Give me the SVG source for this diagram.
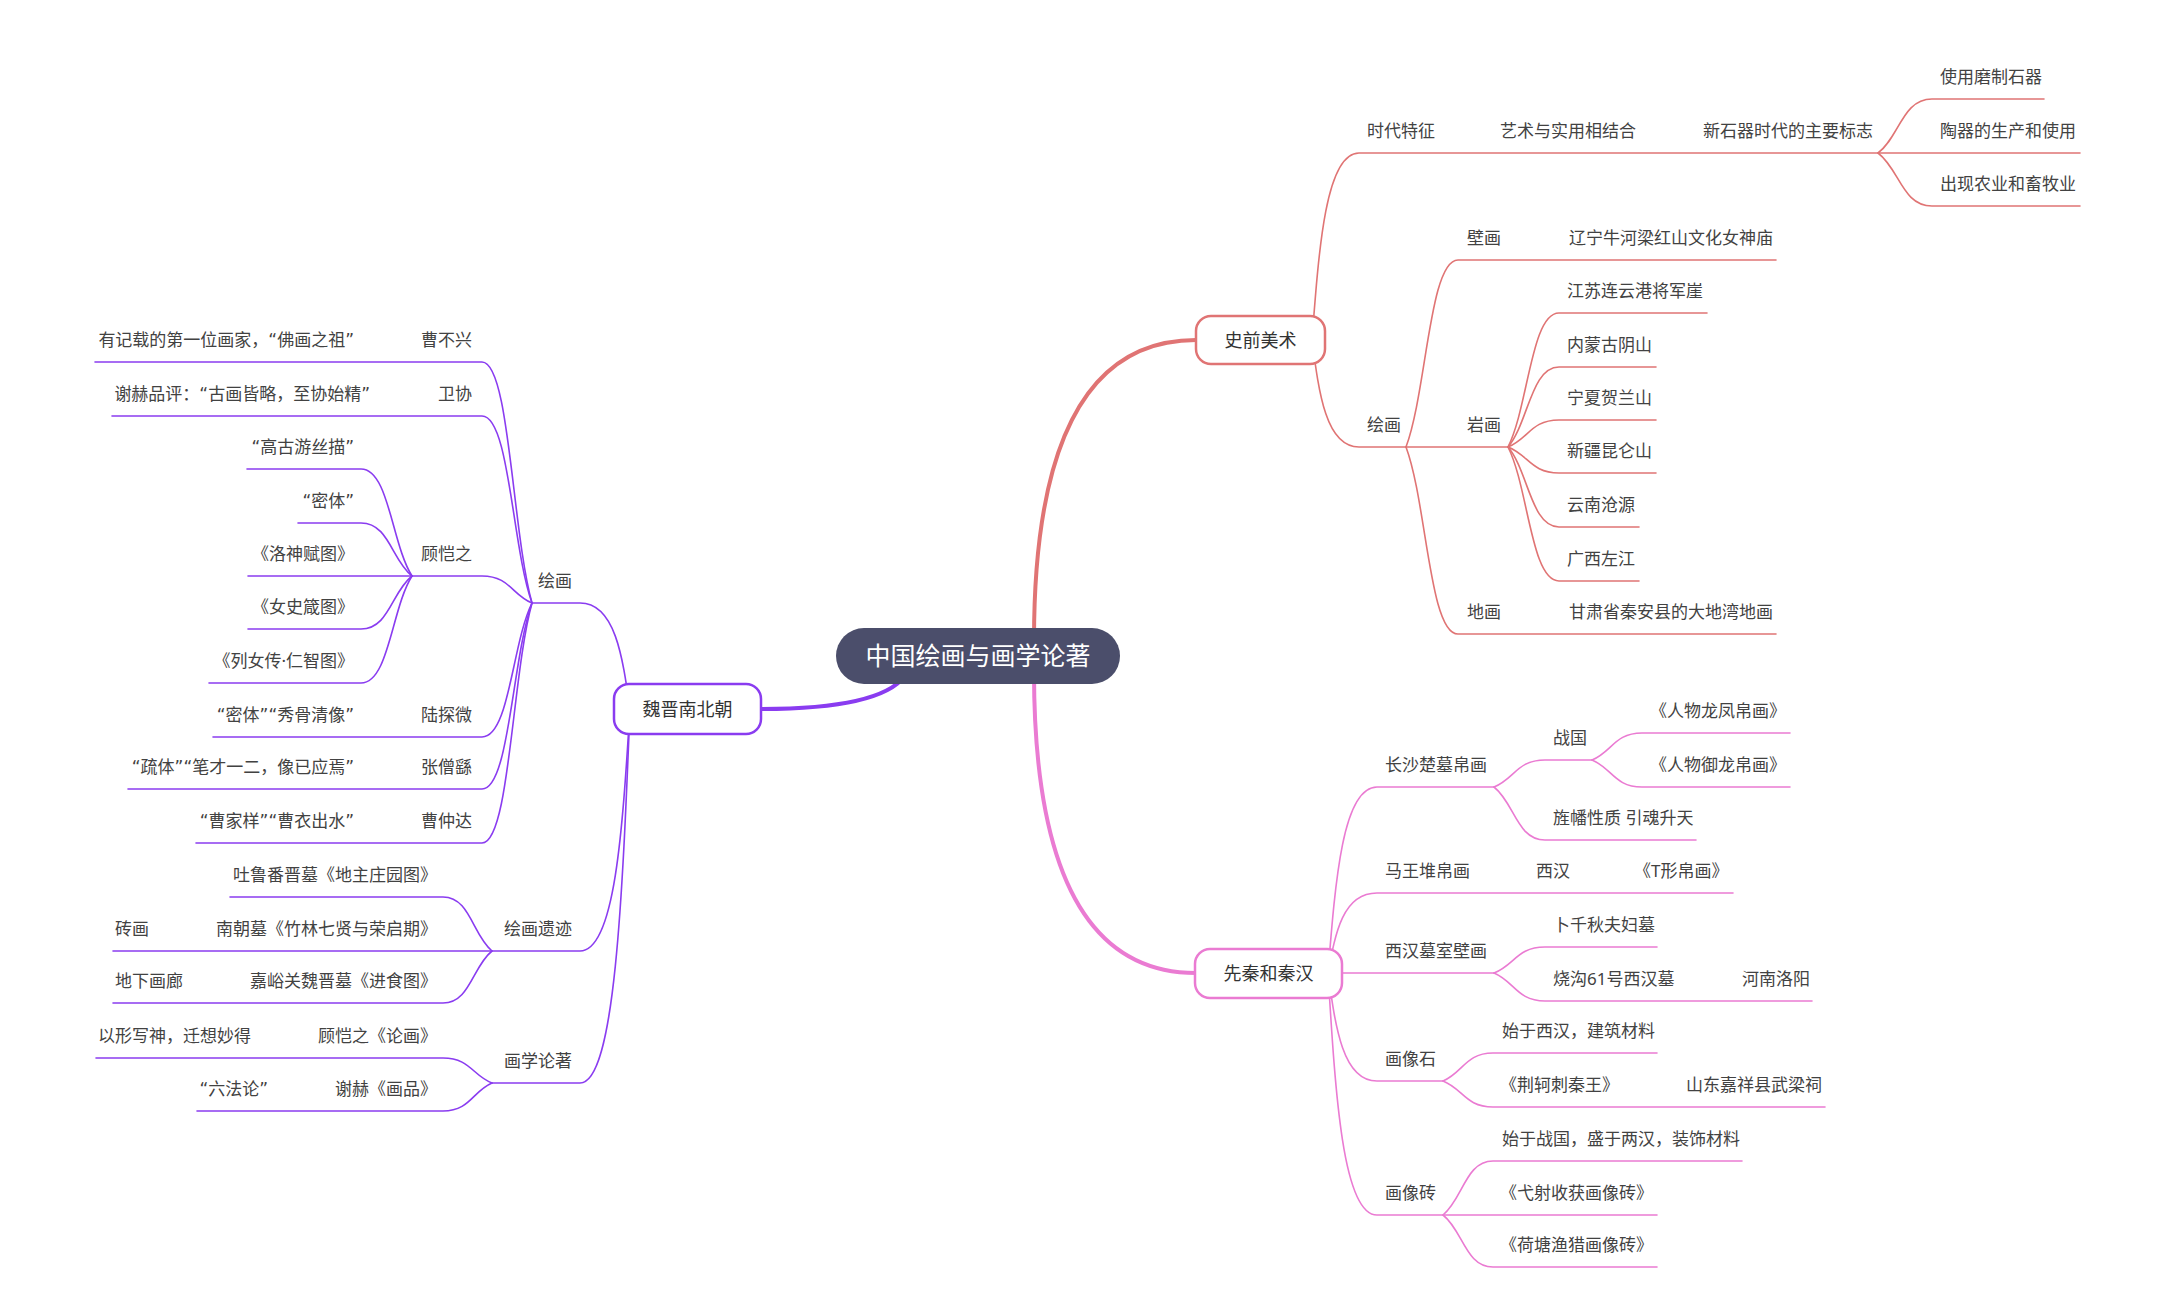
<svg xmlns="http://www.w3.org/2000/svg" width="2172" height="1312" viewBox="0 0 2172 1312">
<style>
text{font-family:"Noto Sans","Noto Sans CJK SC",sans-serif;font-size:17px;fill:#424242}
.q{font-family:"DejaVu Sans","Noto Sans CJK SC",sans-serif}
.l{text-anchor:end}
.m{font-size:18px;text-anchor:middle;fill:#333}
.c{font-size:25px;text-anchor:middle;fill:#fff}
path{fill:none;stroke-width:1.6;stroke-linecap:round}
.r{stroke:#E07474}.p{stroke:#EA7BD2}.v{stroke:#8A3CF0}
.main{stroke-width:4}
.box{fill:#fff;stroke-width:2.5}
</style>
<rect width="2172" height="1312" fill="#fff"/>
<g id="connectors">
<path class="r main" d="M1034 640 Q1034 340 1196 340"/>
<path class="r" d="M1312 340 C1319 246.5 1326 153 1359 153 H2080"/>
<path class="r" d="M1878 153 C1899.6 136.8 1902.3 99 1932 99 H2044"/>
<path class="r" d="M1878 153 C1899.6 169.2 1902.3 206 1932 206 H2080"/>
<path class="r" d="M1312 340 C1319 393.5 1326 447 1359 447 H1508"/>
<path class="r" d="M1406 447 C1426.8 390.9 1429.4 260 1458 260 H1776"/>
<path class="r" d="M1406 447 C1426.8 503.1 1429.4 634 1458 634 H1776"/>
<path class="r" d="M1508 447 C1528.4 406.8 1531 313 1559 313 H1707"/>
<path class="r" d="M1508 447 C1528.4 423 1531 367 1559 367 H1656"/>
<path class="r" d="M1508 447 C1528.4 438.9 1531 420 1559 420 H1656"/>
<path class="r" d="M1508 447 C1528.4 454.8 1531 473 1559 473 H1656"/>
<path class="r" d="M1508 447 C1528.4 471 1531 527 1559 527 H1639"/>
<path class="r" d="M1508 447 C1528.4 487.2 1531 581 1559 581 H1639"/>
<path class="p main" d="M1034 672 Q1034 973 1196 973"/>
<path class="p" d="M1328 973 C1335.4 880 1342.7 787 1377 787 H1494"/>
<path class="p" d="M1494 787 C1514.4 778.9 1517 760 1545 760 H1592"/>
<path class="p" d="M1592 760 C1612 751.9 1614.5 733 1642 733 H1790"/>
<path class="p" d="M1592 760 C1612 768.1 1614.5 787 1642 787 H1790"/>
<path class="p" d="M1494 787 C1514.4 802.9 1517 840 1545 840 H1696"/>
<path class="p" d="M1328 973 C1335.4 933 1342.7 893 1377 893 H1733"/>
<path class="p" d="M1328 973 H1494"/>
<path class="p" d="M1494 973 C1514.4 965.2 1517 947 1545 947 H1657"/>
<path class="p" d="M1494 973 C1514.4 981.4 1517 1001 1545 1001 H1812"/>
<path class="p" d="M1328 973 C1335.4 1027 1342.7 1081 1377 1081 H1443"/>
<path class="p" d="M1443 1081 C1463 1072.6 1465.5 1053 1493 1053 H1657"/>
<path class="p" d="M1443 1081 C1463 1088.8 1465.5 1107 1493 1107 H1825"/>
<path class="p" d="M1328 973 C1335.4 1094 1342.7 1215 1377 1215 H1657"/>
<path class="p" d="M1443 1215 C1463 1198.8 1465.5 1161 1493 1161 H1742"/>
<path class="p" d="M1443 1215 C1463 1230.6 1465.5 1267 1493 1267 H1657"/>
<path class="v main" d="M905 676 Q880 709 761 709"/>
<path class="v" d="M630 709 C622.5 656 615 603 580 603 H532"/>
<path class="v" d="M532 603 C512 530.7 509.5 362 482 362 H95"/>
<path class="v" d="M532 603 C512 546.9 509.5 416 482 416 H112"/>
<path class="v" d="M532 603 C512 594.9 509.5 576 482 576 H248"/>
<path class="v" d="M412 576 C391.6 543.9 389 469 361 469 H247"/>
<path class="v" d="M412 576 C391.6 560.1 389 523 361 523 H298"/>
<path class="v" d="M412 576 C391.6 591.9 389 629 361 629 H248"/>
<path class="v" d="M412 576 C391.6 608.1 389 683 361 683 H209"/>
<path class="v" d="M532 603 C512 643.2 509.5 737 482 737 H213"/>
<path class="v" d="M532 603 C512 658.8 509.5 789 482 789 H128"/>
<path class="v" d="M532 603 C512 675 509.5 843 482 843 H196"/>
<path class="v" d="M630 709 C622.5 830 615 951 580 951 H113"/>
<path class="v" d="M492 951 C472.4 934.8 470 897 443 897 H230"/>
<path class="v" d="M492 951 C472.4 966.6 470 1003 443 1003 H113"/>
<path class="v" d="M630 709 C622.5 896 615 1083 580 1083 H492"/>
<path class="v" d="M492 1083 C472.4 1075.5 470 1058 443 1058 H96"/>
<path class="v" d="M492 1083 C472.4 1091.4 470 1111 443 1111 H197"/>
</g>
<g id="n-central"><rect x="836" y="628" width="284" height="56" rx="28" fill="#4B4E6B"/><text class="c" x="978" y="665">中国绘画与画学论著</text></g>
<g id="n-shiqian"><rect class="box r" x="1196" y="316" width="129" height="48" rx="15"/><text class="m" x="1260.5" y="347">史前美术</text></g>
<g id="n-xianqin"><rect class="box p" x="1195" y="949" width="147" height="49" rx="15"/><text class="m" x="1268.5" y="980">先秦和秦汉</text></g>
<g id="n-weijin"><rect class="box v" x="614" y="684" width="147" height="50" rx="15"/><text class="m" x="687.5" y="716">魏晋南北朝</text></g>
<g id="n-shidai"><text x="1367" y="137">时代特征</text></g>
<g id="n-yishu"><text x="1500" y="137">艺术与实用相结合</text></g>
<g id="n-xinshiqi"><text x="1703" y="137">新石器时代的主要标志</text></g>
<g id="n-shiyong"><text x="1940" y="83">使用磨制石器</text></g>
<g id="n-taoqi"><text x="1940" y="137">陶器的生产和使用</text></g>
<g id="n-nongye"><text x="1940" y="190">出现农业和畜牧业</text></g>
<g id="n-huihua1"><text x="1367" y="431">绘画</text></g>
<g id="n-bihua"><text x="1467" y="244">壁画</text></g>
<g id="n-liaoning"><text x="1569" y="244">辽宁牛河梁红山文化女神庙</text></g>
<g id="n-yanhua"><text x="1467" y="431">岩画</text></g>
<g id="n-jiangsu"><text x="1567" y="297">江苏连云港将军崖</text></g>
<g id="n-neimeng"><text x="1567" y="351">内蒙古阴山</text></g>
<g id="n-ningxia"><text x="1567" y="404">宁夏贺兰山</text></g>
<g id="n-xinjiang"><text x="1567" y="457">新疆昆仑山</text></g>
<g id="n-yunnan"><text x="1567" y="511">云南沧源</text></g>
<g id="n-guangxi"><text x="1567" y="565">广西左江</text></g>
<g id="n-dihua"><text x="1467" y="618">地画</text></g>
<g id="n-gansu"><text x="1569" y="618">甘肃省秦安县的大地湾地画</text></g>
<g id="n-changsha"><text x="1385" y="771">长沙楚墓帛画</text></g>
<g id="n-zhanguo"><text x="1553" y="744">战国</text></g>
<g id="n-longfeng"><text x="1650" y="717">《人物龙凤帛画》</text></g>
<g id="n-yulong"><text x="1650" y="771">《人物御龙帛画》</text></g>
<g id="n-jingfan"><text x="1553" y="824">旌幡性质 引魂升天</text></g>
<g id="n-mawangdui"><text x="1385" y="877">马王堆帛画</text></g>
<g id="n-xihan1"><text x="1536" y="877">西汉</text></g>
<g id="n-txing"><text x="1634" y="877">《T形帛画》</text></g>
<g id="n-muhsi"><text x="1385" y="957">西汉墓室壁画</text></g>
<g id="n-buqianqiu"><text x="1553" y="931">卜千秋夫妇墓</text></g>
<g id="n-shaogou"><text x="1553" y="985">烧沟61号西汉墓</text></g>
<g id="n-luoyang"><text x="1742" y="985">河南洛阳</text></g>
<g id="n-huaxiangshi"><text x="1385" y="1065">画像石</text></g>
<g id="n-shiyuxihan"><text x="1502" y="1037">始于西汉，建筑材料</text></g>
<g id="n-jingke"><text x="1500" y="1091">《荆轲刺秦王》</text></g>
<g id="n-wuliangci"><text x="1686" y="1091">山东嘉祥县武梁祠</text></g>
<g id="n-huaxiangzhuan"><text x="1385" y="1199">画像砖</text></g>
<g id="n-shiyuzhanguo"><text x="1502" y="1145">始于战国，盛于两汉，装饰材料</text></g>
<g id="n-yishe"><text x="1500" y="1199">《弋射收获画像砖》</text></g>
<g id="n-hetang"><text x="1500" y="1251">《荷塘渔猎画像砖》</text></g>
<g id="n-huihua2"><text class="l" x="572" y="587">绘画</text></g>
<g id="n-caobuxing"><text class="l" x="472" y="346">曹不兴</text></g>
<g id="n-fohua"><text class="l q" x="354" y="346">有记载的第一位画家，“佛画之祖”</text></g>
<g id="n-weixie"><text class="l" x="472" y="400">卫协</text></g>
<g id="n-xiehepingping"><text class="l q" x="370" y="400">谢赫品评：“古画皆略，至协始精”</text></g>
<g id="n-gukaizhi"><text class="l" x="472" y="560">顾恺之</text></g>
<g id="n-gaogu"><text class="l q" x="354" y="453">“高古游丝描”</text></g>
<g id="n-miti"><text class="l q" x="354" y="507">“密体”</text></g>
<g id="n-luoshen"><text class="l" x="354" y="560">《洛神赋图》</text></g>
<g id="n-nvshi"><text class="l" x="354" y="613">《女史箴图》</text></g>
<g id="n-lienv"><text class="l" x="354" y="667">《列女传·仁智图》</text></g>
<g id="n-lutanwei"><text class="l" x="472" y="721">陆探微</text></g>
<g id="n-xiugu"><text class="l q" x="354" y="721">“密体”“秀骨清像”</text></g>
<g id="n-zhangsengyao"><text class="l" x="472" y="773">张僧繇</text></g>
<g id="n-shuti"><text class="l q" x="354" y="773">“疏体”“笔才一二，像已应焉”</text></g>
<g id="n-caozhongda"><text class="l" x="472" y="827">曹仲达</text></g>
<g id="n-caojiayang"><text class="l q" x="354" y="827">“曹家样”“曹衣出水”</text></g>
<g id="n-yiji"><text class="l" x="572" y="935">绘画遗迹</text></g>
<g id="n-tulufan"><text class="l" x="437" y="881">吐鲁番晋墓《地主庄园图》</text></g>
<g id="n-nanchao"><text class="l" x="437" y="935">南朝墓《竹林七贤与荣启期》</text></g>
<g id="n-zhuanhua"><text class="l" x="149" y="935">砖画</text></g>
<g id="n-jiayuguan"><text class="l" x="437" y="987">嘉峪关魏晋墓《进食图》</text></g>
<g id="n-dixia"><text class="l" x="183" y="987">地下画廊</text></g>
<g id="n-lunzhu"><text class="l" x="572" y="1067">画学论著</text></g>
<g id="n-lunhua"><text class="l" x="437" y="1042">顾恺之《论画》</text></g>
<g id="n-yixing"><text class="l" x="251" y="1042">以形写神，迁想妙得</text></g>
<g id="n-huapin"><text class="l" x="437" y="1095">谢赫《画品》</text></g>
<g id="n-liufa"><text class="l q" x="268" y="1095">“六法论”</text></g>
</svg>
